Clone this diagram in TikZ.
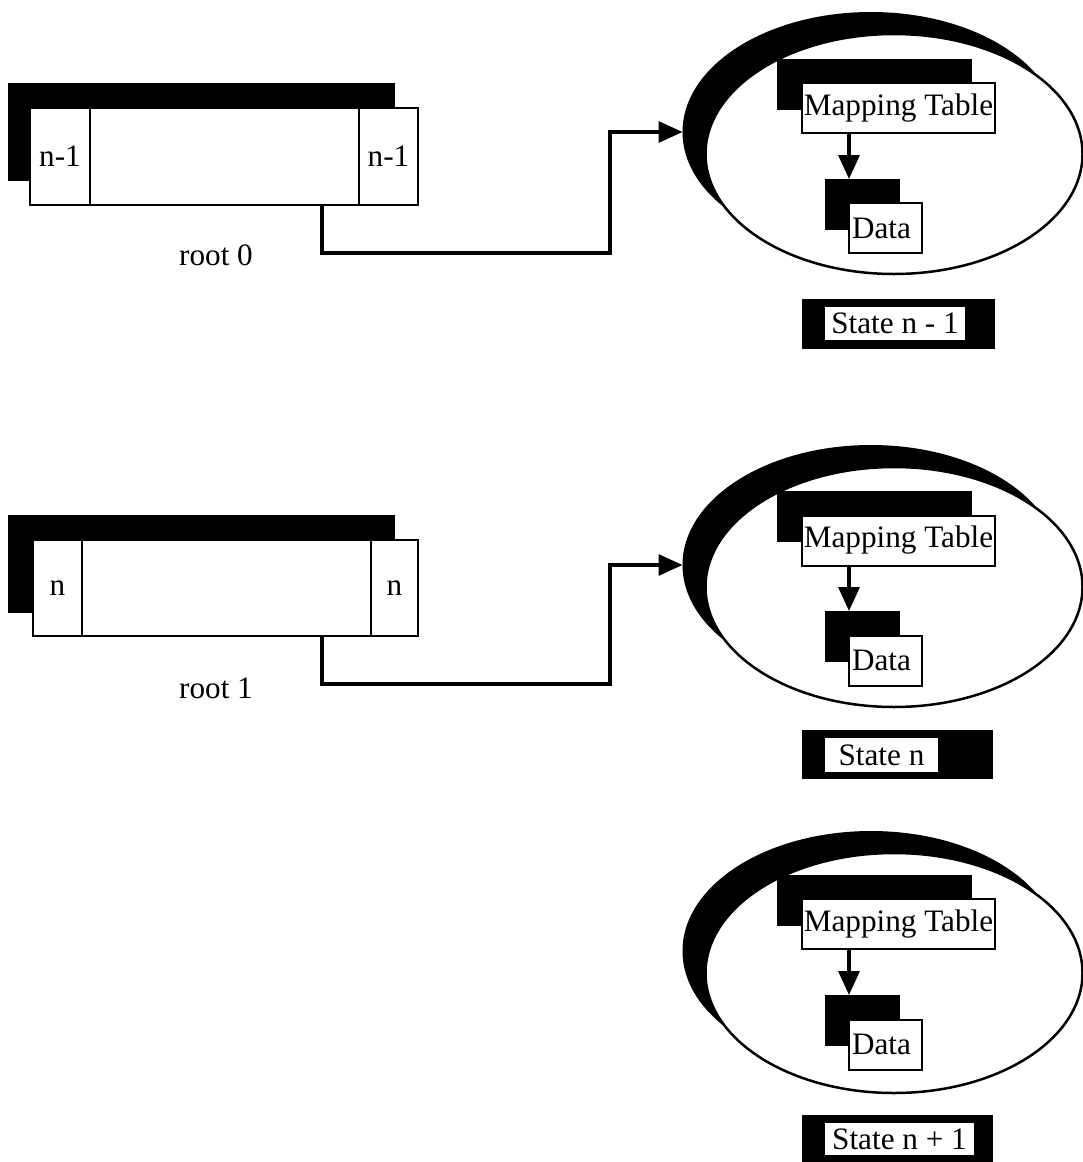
\documentclass[tikz,border=0pt]{standalone}
\usepackage{fontspec}
\setmainfont{Liberation Serif}
\usetikzlibrary{shapes.geometric,arrows.meta,positioning}

\begin{document}
\begin{tikzpicture}[x=1pt,y=-1pt,
  every node/.style={font=\fontsize{31.2}{36}\selectfont},
  blk/.style={fill=black, inner sep=0pt, outer sep=0pt},
  box/.style={draw, fill=white, line width=2pt, inner sep=1pt, outer sep=0pt},
  oval/.style={ellipse, draw, fill=white, line width=2.5pt, inner sep=0pt,
    minimum width=377pt, minimum height=240pt},
  link/.style={line width=3.3pt, -{Triangle[length=24pt,width=21pt]}}]
  \useasboundingbox (0,0) rectangle (1083,1162);

  % root 0
  \node[blk, minimum width=387pt, minimum height=98pt] (r0s) at (201.5,132) {};
  \node[box, minimum width=60pt, minimum height=97pt] (r0a) at (60,156.5) {n-1};
  \node[box, minimum width=269pt, minimum height=97pt, right=0pt of r0a] (r0b) {};
  \node[box, minimum width=59pt, minimum height=97pt, right=0pt of r0b] (r0c) {n-1};
  \node (r0name) at (216,255) {root 0};
  \coordinate (r0out) at (322,205);

  % root 1
  \node[blk, minimum width=387pt, minimum height=98pt] (r1s) at (201.5,564) {};
  \node[box, minimum width=49pt, minimum height=96pt] (r1a) at (57.5,588) {n};
  \node[box, minimum width=289pt, minimum height=96pt, right=0pt of r1a] (r1b) {};
  \node[box, minimum width=47pt, minimum height=96pt, right=0pt of r1b] (r1c) {n};
  \node (r1name) at (216,688) {root 1};
  \coordinate (r1out) at (322,636);

  % state n - 1
  \node[blk, ellipse, minimum width=377pt, minimum height=240pt] (e0s) at (871,132) {};
  \node[oval] (e0) at (894,154) {};
  \node[blk, minimum width=195pt, minimum height=51pt] (m0s) at (874.5,84.5) {};
  \node[box, minimum width=193pt, minimum height=50pt] (m0) at (898.5,108) {Mapping Table};
  \node[blk, minimum width=75pt, minimum height=51pt] (d0s) at (862.5,204.5) {};
  \node[box, minimum width=73pt, minimum height=50pt, text width=67pt, align=left] (d0) at (885.5,228) {Data};
  \draw[link] (m0.south -| d0.west) -- (d0.west |- d0s.north);
  \node[blk, minimum width=193pt, minimum height=50pt] (s0s) at (898.5,324) {};
  \node[fill=white, inner sep=0pt, minimum width=140pt, minimum height=33pt] (s0) at (895,323.5) {State n - 1};

  % state n
  \node[blk, ellipse, minimum width=377pt, minimum height=240pt] (e1s) at (871,565) {};
  \node[oval] (e1) at (894,587) {};
  \node[blk, minimum width=195pt, minimum height=51pt] (m1s) at (874.5,516.5) {};
  \node[box, minimum width=193pt, minimum height=50pt] (m1) at (898.5,540.5) {Mapping Table};
  \node[blk, minimum width=75pt, minimum height=51pt] (d1s) at (862.5,636.5) {};
  \node[box, minimum width=73pt, minimum height=50pt, text width=67pt, align=left] (d1) at (885.5,660.5) {Data};
  \draw[link] (m1.south -| d1.west) -- (d1.west |- d1s.north);
  \node[blk, minimum width=191pt, minimum height=49pt] (s1s) at (897.5,754.5) {};
  \node[fill=white, inner sep=0pt, minimum width=113pt, minimum height=34pt] (s1) at (881.5,755) {State n};

  % state n + 1
  \node[blk, ellipse, minimum width=377pt, minimum height=240pt] (e2s) at (871,951) {};
  \node[oval] (e2) at (894,973) {};
  \node[blk, minimum width=195pt, minimum height=51pt] (m2s) at (874.5,900.5) {};
  \node[box, minimum width=193pt, minimum height=50pt] (m2) at (898.5,924) {Mapping Table};
  \node[blk, minimum width=75pt, minimum height=51pt] (d2s) at (862.5,1020.5) {};
  \node[box, minimum width=73pt, minimum height=50pt, text width=67pt, align=left] (d2) at (885.5,1044.5) {Data};
  \draw[link] (m2.south -| d2.west) -- (d2.west |- d2s.north);
  \node[blk, minimum width=191pt, minimum height=47pt] (s2s) at (897.5,1138.5) {};
  \node[fill=white, inner sep=0pt, minimum width=149pt, minimum height=32pt] (s2) at (899.5,1139) {State n + 1};

  % roots to states
  \draw[link] (r0out) |- (610,253) |- (e0s.west);
  \draw[link] (r1out) |- (610,684) |- (e1s.west);
\end{tikzpicture}
\end{document}
